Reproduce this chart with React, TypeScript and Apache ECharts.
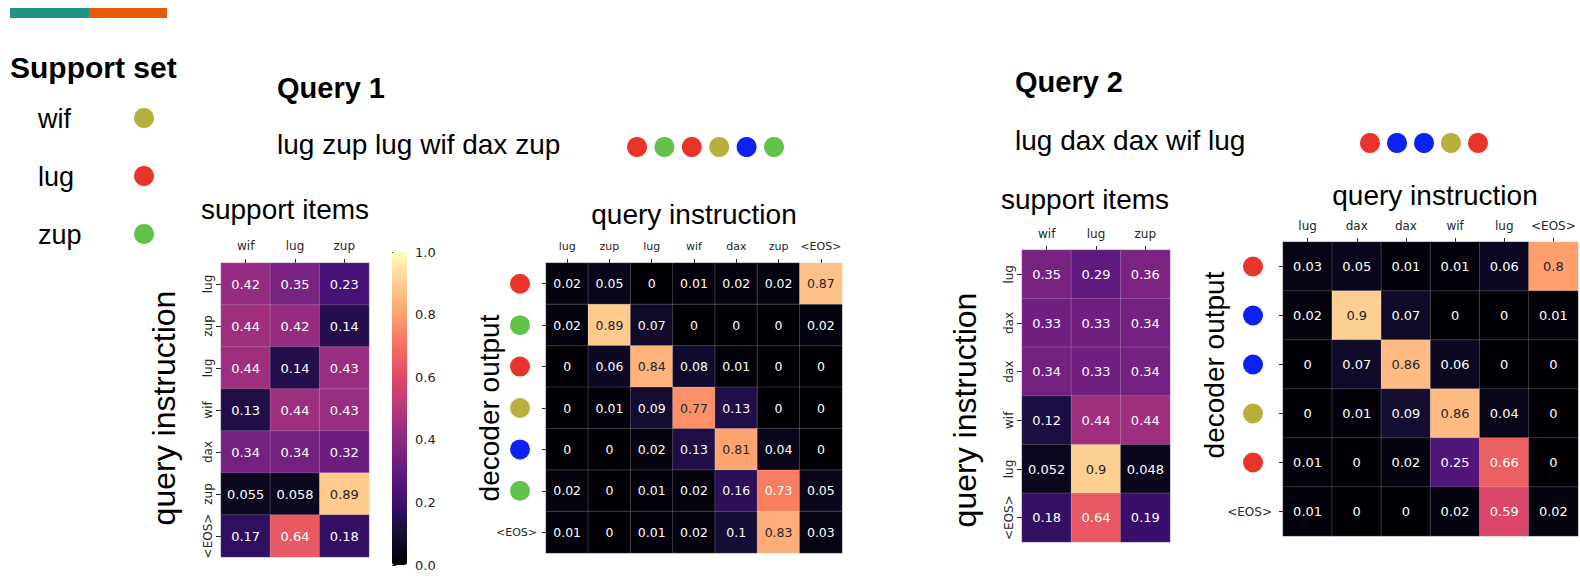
import React, { useEffect, useRef } from "react";
import * as echarts from "echarts";

// ---------- data ----------
const supportSet = ["wif", "lug", "zup"];
const supportItems = ["wif", "lug", "zup"];

const q1Tokens = ["lug", "zup", "lug", "wif", "dax", "zup"];
const q1Instruction = ["lug", "zup", "lug", "wif", "dax", "zup", "<EOS>"];
const q1Outputs = ["lug", "zup", "lug", "wif", "dax", "zup", "<EOS>"];
const q1Support = [
  [0.42, 0.35, 0.23],
  [0.44, 0.42, 0.14],
  [0.44, 0.14, 0.43],
  [0.13, 0.44, 0.43],
  [0.34, 0.34, 0.32],
  [0.055, 0.058, 0.89],
  [0.17, 0.64, 0.18],
];
const q1Decoder = [
  [0.02, 0.05, 0, 0.01, 0.02, 0.02, 0.87],
  [0.02, 0.89, 0.07, 0, 0, 0, 0.02],
  [0, 0.06, 0.84, 0.08, 0.01, 0, 0],
  [0, 0.01, 0.09, 0.77, 0.13, 0, 0],
  [0, 0, 0.02, 0.13, 0.81, 0.04, 0],
  [0.02, 0, 0.01, 0.02, 0.16, 0.73, 0.05],
  [0.01, 0, 0.01, 0.02, 0.1, 0.83, 0.03],
];

const q2Tokens = ["lug", "dax", "dax", "wif", "lug"];
const q2Instruction = ["lug", "dax", "dax", "wif", "lug", "<EOS>"];
const q2Outputs = ["lug", "dax", "dax", "wif", "lug", "<EOS>"];
const q2Support = [
  [0.35, 0.29, 0.36],
  [0.33, 0.33, 0.34],
  [0.34, 0.33, 0.34],
  [0.12, 0.44, 0.44],
  [0.052, 0.9, 0.048],
  [0.18, 0.64, 0.19],
];
const q2Decoder = [
  [0.03, 0.05, 0.01, 0.01, 0.06, 0.8],
  [0.02, 0.9, 0.07, 0, 0, 0.01],
  [0, 0.07, 0.86, 0.06, 0, 0],
  [0, 0.01, 0.09, 0.86, 0.04, 0],
  [0.01, 0, 0.02, 0.25, 0.66, 0],
  [0.01, 0, 0, 0.02, 0.59, 0.02],
];

const colorbarTicks = [0, 0.2, 0.4, 0.6, 0.8, 1.0];

// ---------- styles ----------
const tokenColor: Record<string, string> = {
  wif: "#b7b03c",
  lug: "#e8342a",
  zup: "#62c34b",
  dax: "#0b22f2",
};
const MAGMA = [
  "#000004", "#140e36", "#3b0f70", "#641a80", "#8c2981", "#b73779",
  "#de4968", "#f7705c", "#fe9f6d", "#fecf92", "#fcfdbf",
];
const SANS = "'Liberation Sans', Arial, Helvetica, sans-serif";
const DEJAVU = "'DejaVu Sans', sans-serif";
const TICK = "#262626";

function heatSeries(idx: number, rows: number[][], fontSize: number) {
  return {
    type: "heatmap",
    xAxisIndex: idx,
    yAxisIndex: idx,
    silent: true,
    emphasis: { disabled: true },
    itemStyle: { borderColor: "rgba(255,255,255,0.18)", borderWidth: 1 },
    label: {
      show: true,
      fontFamily: DEJAVU,
      fontSize,
      formatter: (p: any) => String(p.value[2]),
    },
    data: rows.flatMap((row, r) =>
      row.map((v, c) => ({
        value: [c, r, v],
        label: { color: v >= 0.75 ? "#262626" : "#ffffff" },
      }))
    ),
  };
}

function catX(idx: number, data: string[], fontSize: number, margin: number) {
  return {
    type: "category",
    gridIndex: idx,
    data,
    position: "top",
    axisLine: { show: false },
    axisTick: { show: true, alignWithLabel: true, length: 4, lineStyle: { color: TICK, width: 1 } },
    axisLabel: { fontFamily: DEJAVU, fontSize, color: TICK, margin, interval: 0 },
    splitLine: { show: false },
  };
}

function catYRot(idx: number, data: string[], fontSize: number) {
  return {
    type: "category",
    gridIndex: idx,
    data,
    inverse: true,
    axisLine: { show: false },
    axisTick: { show: true, alignWithLabel: true, length: 5, lineStyle: { color: TICK, width: 1 } },
    axisLabel: { fontFamily: DEJAVU, fontSize, color: TICK, rotate: 90, margin: 7, interval: 0 },
    splitLine: { show: false },
  };
}

function dotY(idx: number, data: string[], fontSize: number, margin: number, gap: number) {
  const rich: any = { gap: { width: gap, height: 20 } };
  Object.keys(tokenColor).forEach((k) => {
    rich[k] = { width: 20, height: 20, borderRadius: 10, backgroundColor: tokenColor[k], fontSize: 1 };
  });
  return {
    type: "category",
    gridIndex: idx,
    data,
    inverse: true,
    axisLine: { show: false },
    axisTick: { show: true, alignWithLabel: true, length: 4, lineStyle: { color: TICK, width: 1 } },
    axisLabel: {
      fontFamily: DEJAVU,
      fontSize,
      color: TICK,
      margin,
      interval: 0,
      formatter: (t: string) => (tokenColor[t] ? `{${t}| }{gap| }` : t),
      rich,
    },
    splitLine: { show: false },
  };
}

function txt(text: string, x: number, y: number, size: number, opts: any = {}) {
  return {
    type: "text",
    x,
    y,
    rotation: opts.rotation || 0,
    style: {
      text,
      x: 0,
      y: 0,
      fill: "#000",
      font: `${opts.bold ? "bold " : ""}${size}px ${SANS}`,
      align: opts.align || "left",
      verticalAlign: "middle",
      textAlign: opts.align || "left",
      textVerticalAlign: "middle",
    },
  };
}

function dot(cx: number, cy: number, color: string) {
  return { type: "circle", shape: { cx, cy, r: 10 }, style: { fill: color } };
}

export default function App() {
  const ref = useRef<HTMLDivElement>(null);
  useEffect(() => {
    if (!ref.current) return;
    const chart = echarts.init(ref.current, undefined, { renderer: "svg" });

    const graphics: any[] = [
      { type: "rect", shape: { x: 10, y: 8, width: 79, height: 10 }, style: { fill: "#1b9784" } },
      { type: "rect", shape: { x: 89, y: 8, width: 78, height: 10 }, style: { fill: "#e85a0b" } },
      txt("Support set", 10, 67, 30, { bold: true }),
    ];
    const legendY = [119, 177, 235];
    supportSet.forEach((t, i) => {
      graphics.push(txt(t, 38, legendY[i], 27));
      graphics.push(dot(144, legendY[i] - 1, tokenColor[t]));
    });

    graphics.push(txt("Query 1", 277, 88, 29, { bold: true }));
    graphics.push(txt(q1Tokens.join(" "), 277, 144, 28));
    q1Tokens.forEach((t, i) => graphics.push(dot(637 + i * 27.4, 147, tokenColor[t])));

    graphics.push(txt("Query 2", 1015, 82, 29, { bold: true }));
    graphics.push(txt(q2Tokens.join(" "), 1015, 140, 28));
    q2Tokens.forEach((t, i) => graphics.push(dot(1370 + i * 27, 143, tokenColor[t])));

    graphics.push(txt("support items", 285, 209, 28, { align: "center" }));
    graphics.push(txt("query instruction", 694, 214, 28, { align: "center" }));
    graphics.push(txt("support items", 1085, 199, 28, { align: "center" }));
    graphics.push(txt("query instruction", 1435, 195, 28, { align: "center" }));

    graphics.push(txt("query instruction", 164, 408, 32, { align: "center", rotation: Math.PI / 2 }));
    graphics.push(txt("decoder output", 489, 408, 28, { align: "center", rotation: Math.PI / 2 }));
    graphics.push(txt("query instruction", 965, 410, 32, { align: "center", rotation: Math.PI / 2 }));
    graphics.push(txt("decoder output", 1214, 365, 28, { align: "center", rotation: Math.PI / 2 }));

    const option: any = {
      animation: false,
      backgroundColor: "#ffffff",
      grid: [
        { left: 221, top: 263, width: 148, height: 294 },
        { left: 546, top: 263, width: 296, height: 290 },
        { left: 1022, top: 250, width: 148, height: 292 },
        { left: 1283, top: 242, width: 295, height: 294 },
        { left: 392, top: 252, width: 15, height: 313 },
      ],
      xAxis: [
        catX(0, supportItems, 12, 11),
        catX(1, q1Instruction, 11, 11),
        catX(2, supportItems, 12, 10),
        catX(3, q2Instruction, 12, 10),
        { type: "value", gridIndex: 4, show: false, min: 0, max: 1 },
      ],
      yAxis: [
        catYRot(0, q1Instruction, 12),
        dotY(1, q1Outputs, 11, 9, 7),
        catYRot(2, q2Instruction, 12),
        dotY(3, q2Outputs, 12, 11, 9),
        {
          type: "value",
          gridIndex: 4,
          min: 0,
          max: 1,
          interval: 0.2,
          position: "right",
          axisLine: { show: false },
          splitLine: { show: false },
          axisTick: { show: true, length: 4, lineStyle: { color: TICK, width: 1 } },
          axisLabel: {
            fontFamily: DEJAVU,
            fontSize: 13,
            color: TICK,
            margin: 8,
            customValues: colorbarTicks,
            formatter: (v: number) => v.toFixed(1),
          },
        },
      ],
      visualMap: {
        type: "continuous",
        min: 0,
        max: 1,
        seriesIndex: [0, 1, 2, 3],
        inRange: { color: MAGMA },
        show: true,
        calculable: false,
        hoverLink: false,
        orient: "vertical",
        left: 392,
        top: 252,
        itemWidth: 15,
        itemHeight: 313,
        padding: 0,
      },
      series: [
        heatSeries(0, q1Support, 13),
        heatSeries(1, q1Decoder, 12.5),
        heatSeries(2, q2Support, 13),
        heatSeries(3, q2Decoder, 13),
        { type: "scatter", xAxisIndex: 4, yAxisIndex: 4, data: [], silent: true },
      ],
      graphic: graphics,
    };
    chart.setOption(option);
    return () => chart.dispose();
  }, []);

  return (
    <div
      ref={ref}
      style={{ position: "fixed", left: 0, top: 0, width: 1580, height: 578, background: "#fff" }}
    />
  );
}
